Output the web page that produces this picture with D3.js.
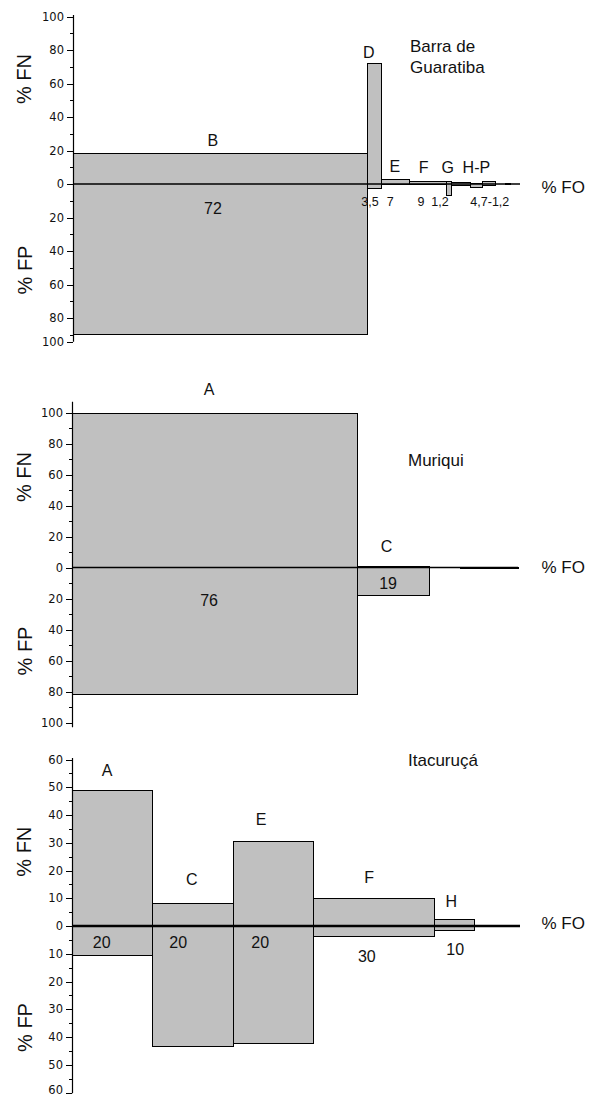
<!DOCTYPE html>
<html>
<head>
<meta charset="utf-8">
<script src="https://cdn.jsdelivr.net/npm/d3@7"></script>
<style>
  html, body { margin: 0; padding: 0; background: #fff; }
  svg { display: block; }
  .tick text { font-family: "DejaVu Sans", sans-serif; font-size: 11.5px; fill: #111; }
  .lbl { font-family: "Liberation Sans", Arial, sans-serif; fill: #111; }
</style>
</head>
<body>
<script>
// ---------------- DATA ----------------
// Panel 1: Barra de Guaratiba
const barraCats = ["B", "D", "E", "F", "G", "H", "I", "J", "O", "P"];
const barraFO   = [72, 3.5, 7, 9, 1.2, 4.7, 3, 3, 2.5, 1.2];
const barraFN   = [18.7, 72.3, 3, 1.8, 1.5, 1, 0.5, 1.5, 0.2, 0.4];
const barraFP   = [89.4, 2.2, 0, 0.2, 6.5, 0.3, 1.5, 0.3, 0, 0];
const barraLetterLabels = ["B", "D", "E", "F", "G", "H-P"];
const barraFOLabels     = ["72", "3,5", "7", "9", "1,2", "4,7-1,2"];

// Panel 2: Muriqui
const muriquiCats = ["A", "C", "D", "E"];
const muriquiFO   = [76, 19, 8.3, 15.4];
const muriquiFN   = [100, 0.8, 0, 0.5];
const muriquiFP   = [81.6, 18, 0, 0.3];
const muriquiLetterLabels = ["A", "C"];
const muriquiFOLabels     = ["76", "19"];

// Panel 3: Itacuruçá
const itaCats = ["A", "C", "E", "F", "H"];
const itaFO   = [20, 20, 20, 30, 10];
const itaFN   = [49, 8.4, 30.6, 10, 2.4];
const itaFP   = [10.4, 43.4, 42.2, 3.6, 1.4];
const itaLetterLabels = ["A", "C", "E", "F", "H"];
const itaFOLabels     = ["20", "20", "20", "30", "10"];

// Axis tick values
const barraMajorTicks = [100, 80, 60, 40, 20, 0, -20, -40, -60, -80];
const barraMinorTicks = [90, 70, 50, 30, 10, -10, -30, -50, -70, -90];
const muriquiMajorTicks = [100, 80, 60, 40, 20, 0, -20, -40, -60, -80, -100];
const muriquiMinorTicks = [90, 70, 50, 30, 10, -10, -30, -50, -70, -90];
const itaMajorTicks = [60, 50, 40, 30, 20, 10, 0, -10, -20, -30, -40, -50, -60];
const itaMinorTicks = [55, 45, 35, 25, 15, 5, -5, -15, -25, -35, -45, -55];

// ---------------- LAYOUT ----------------
const W = 601, H = 1096;
const svg = d3.select("body").append("svg").attr("width", W).attr("height", H);

const panels = [
  {
    cats: barraCats, fo: barraFO, fn: barraFN, fp: barraFP,
    majors: barraMajorTicks, minors: barraMinorTicks,
    xDomain: [0, 109.6], xRange: [73, 520],
    yDomain: [100, -94.2], yRange: [16.5, 341.8],
    axisExt: [100.9, -94.2], endTickLabel: "100",
    zeroWidth: 1.5,
    titleLines: ["Barra de", "Guaratiba"], titleX: 410, titleY: [51.5, 73],
    letters: barraLetterLabels,
    letterPos: [[34.3, 26.3], [72.5, 78.8], [78.9, 10.3], [86, 10.1], [91.9, 10.1], [98.9, 10.1]],
    letterSize: 16,
    foLabels: barraFOLabels,
    foPos: [[34.3, -14.3], [72.8, -10.7], [77.8, -10.7], [85.3, -10.7], [90, -10.7], [102.2, -10.7]],
    foSizes: [16, 12.5, 12.5, 12.5, 12.5, 12.5],
    fnTitleY: 79, fpTitleY: 270, foY: 186.7
  },
  {
    cats: muriquiCats, fo: muriquiFO, fn: muriquiFN, fp: muriquiFP,
    majors: muriquiMajorTicks, minors: muriquiMinorTicks,
    xDomain: [0, 118.8], xRange: [72, 518],
    yDomain: [100, -100], yRange: [412.5, 722.5],
    axisExt: [107, -103], endTickLabel: null,
    zeroWidth: 1.5,
    titleLines: ["Muriqui"], titleX: 408, titleY: [466],
    letters: muriquiLetterLabels,
    letterPos: [[36.5, 115.2], [83.8, 13.4]],
    letterSize: 16,
    foLabels: muriquiFOLabels,
    foPos: [[36.5, -21], [84.2, -10.2]],
    foSizes: [16, 16],
    fnTitleY: 477, fpTitleY: 651, foY: 566.7
  },
  {
    cats: itaCats, fo: itaFO, fn: itaFN, fp: itaFP,
    majors: itaMajorTicks, minors: itaMinorTicks,
    xDomain: [0, 111.4], xRange: [72, 520],
    yDomain: [60, -60], yRange: [759.5, 1092.5],
    axisExt: [60.5, -60.3], endTickLabel: null,
    zeroWidth: 2.5,
    titleLines: ["Itacuruçá"], titleX: 408, titleY: [766],
    letters: itaLetterLabels,
    letterPos: [[8.7, 55.9], [29.8, 16.8], [47, 38.3], [73.9, 17.4], [94.3, 8.8]],
    letterSize: 16,
    foLabels: itaFOLabels,
    foPos: [[7.4, -6], [26.4, -6], [46.8, -6], [73.3, -11], [95.3, -8.4]],
    foSizes: [16, 16, 16, 16, 16],
    fnTitleY: 851.7, fpTitleY: 1027.5, foY: 923.3
  }
];

panels.forEach(p => {
  const x = d3.scaleLinear().domain(p.xDomain).range(p.xRange);
  const y = d3.scaleLinear().domain(p.yDomain).range(p.yRange);
  const g = svg.append("g");

  const starts = [];
  let acc = 0;
  p.fo.forEach(v => { starts.push(acc); acc += v; });
  const bars = p.cats.map((c, i) => ({ cat: c, x0: starts[i], x1: starts[i] + p.fo[i], fn: p.fn[i], fp: p.fp[i] }));

  g.append("g").selectAll("rect").data(bars).join("rect")
    .attr("x", d => Math.round(x(d.x0)) + 0.5)
    .attr("y", d => Math.round(y(d.fn)) + 0.5)
    .attr("width", d => Math.max(0, Math.round(x(d.x1)) - Math.round(x(d.x0))))
    .attr("height", d => Math.max(0, Math.round(y(-d.fp)) - Math.round(y(d.fn))))
    .attr("fill", "#c0c0c0")
    .attr("stroke", "#000")
    .attr("stroke-width", 1)
    .attr("shape-rendering", "crispEdges");

  g.append("line")
    .attr("x1", p.xRange[0]).attr("x2", p.xRange[1])
    .attr("y1", y(0)).attr("y2", y(0))
    .attr("stroke", "#000").attr("stroke-width", p.zeroWidth);

  const yAxisG = g.append("g").attr("transform", `translate(${p.xRange[0]},0)`);
  const majors = p.endTickLabel ? p.majors.concat([p.yDomain[1]]) : p.majors;
  yAxisG.call(d3.axisLeft(y).tickValues(majors).tickSize(6).tickPadding(3)
      .tickFormat(v => (p.endTickLabel && v === p.yDomain[1]) ? p.endTickLabel : String(Math.abs(v))));
  yAxisG.select(".domain").remove();
  // keep the last bottom label inside the picture
  yAxisG.selectAll(".tick text").filter(v => y(v) > H - 6).attr("dy", "0.1em");
  const minorG = g.append("g").attr("transform", `translate(${p.xRange[0]},0)`);
  minorG.call(d3.axisLeft(y).tickValues(p.minors).tickSize(3).tickFormat(""));
  minorG.select(".domain").remove();
  g.selectAll(".tick line").attr("stroke", "#000").attr("shape-rendering", "crispEdges");
  g.append("line")
    .attr("x1", p.xRange[0] + 0.5).attr("x2", p.xRange[0] + 0.5)
    .attr("y1", y(p.axisExt[0])).attr("y2", y(p.axisExt[1]))
    .attr("stroke", "#000").attr("stroke-width", 1.2);

  g.append("text").attr("class", "lbl")
    .attr("transform", `translate(24,${p.fnTitleY}) rotate(-90)`)
    .attr("text-anchor", "middle").attr("dy", "0.35em")
    .attr("font-size", 20).text("% FN");
  g.append("text").attr("class", "lbl")
    .attr("transform", `translate(25,${p.fpTitleY}) rotate(-90)`)
    .attr("text-anchor", "middle").attr("dy", "0.35em")
    .attr("font-size", 20).text("% FP");
  g.append("text").attr("class", "lbl")
    .attr("x", 541.5).attr("y", p.foY).attr("dy", "0.35em")
    .attr("font-size", 17).text("% FO");

  p.titleLines.forEach((t, i) => {
    g.append("text").attr("class", "lbl")
      .attr("x", p.titleX).attr("y", p.titleY[i])
      .attr("font-size", 17).text(t);
  });

  p.letters.forEach((t, i) => {
    g.append("text").attr("class", "lbl")
      .attr("x", x(p.letterPos[i][0])).attr("y", y(p.letterPos[i][1]))
      .attr("text-anchor", "middle").attr("dy", "0.35em")
      .attr("font-size", p.letterSize).text(t);
  });
  p.foLabels.forEach((t, i) => {
    g.append("text").attr("class", "lbl")
      .attr("x", x(p.foPos[i][0])).attr("y", y(p.foPos[i][1]))
      .attr("text-anchor", "middle").attr("dy", "0.35em")
      .attr("font-size", p.foSizes[i]).text(t);
  });
});
</script>
</body>
</html>
